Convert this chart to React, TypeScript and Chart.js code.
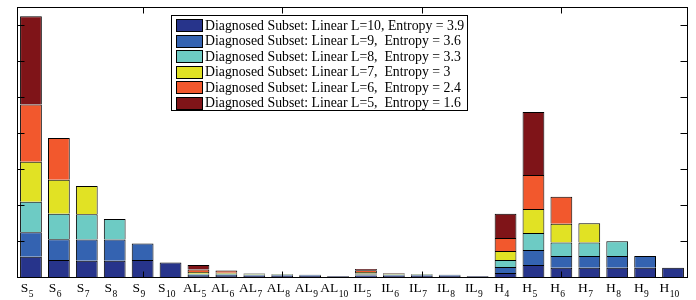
import React, { useEffect, useRef } from "react";
import { Chart, registerables } from "chart.js";

Chart.register(...registerables);

const categories = [
  "S5", "S6", "S7", "S8", "S9", "S10",
  "AL5", "AL6", "AL7", "AL8", "AL9", "AL10",
  "IL5", "IL6", "IL7", "IL8", "IL9",
  "H4", "H5", "H6", "H7", "H8", "H9", "H10",
];

const seriesLabels = [
  "Diagnosed Subset: Linear L=10, Entropy = 3.9",
  "Diagnosed Subset: Linear L=9,  Entropy = 3.6",
  "Diagnosed Subset: Linear L=8,  Entropy = 3.3",
  "Diagnosed Subset: Linear L=7,  Entropy = 3",
  "Diagnosed Subset: Linear L=6,  Entropy = 2.4",
  "Diagnosed Subset: Linear L=5,  Entropy = 1.6",
];

const seriesColors = ["#27348b", "#3463b1", "#6dcbc4", "#e1e224", "#f2582d", "#7f1418"];

// values per category (S5..S10, AL5..AL10, IL5..IL9, H4..H10)
const linearL10 = [0.56, 0.47, 0.45, 0.45, 0.47, 0.4, 0.03, 0.03, 0.03, 0.03, 0.03, 0.02, 0.04, 0.03, 0.03, 0.03, 0.02, 0.11, 0.33, 0.26, 0.26, 0.26, 0.26, 0.26];
const linearL9 = [0.68, 0.58, 0.59, 0.59, 0.46, 0, 0.03, 0.03, 0.02, 0.02, 0.02, 0.01, 0.03, 0.02, 0.02, 0.02, 0.01, 0.17, 0.42, 0.32, 0.32, 0.32, 0.32, 0];
const linearL8 = [0.85, 0.71, 0.7, 0.57, 0, 0, 0.03, 0.03, 0.02, 0.02, 0.01, 0, 0.03, 0.02, 0.02, 0.01, 0, 0.19, 0.47, 0.38, 0.38, 0.41, 0, 0];
const linearL7 = [1.11, 0.94, 0.79, 0, 0, 0, 0.05, 0.03, 0.03, 0.01, 0, 0, 0.04, 0.03, 0.01, 0, 0, 0.25, 0.67, 0.52, 0.53, 0, 0, 0];
const linearL6 = [1.59, 1.16, 0, 0, 0, 0, 0.07, 0.06, 0, 0, 0, 0, 0.05, 0.01, 0, 0, 0, 0.36, 0.94, 0.75, 0, 0, 0, 0];
const linearL5 = [2.45, 0, 0, 0, 0, 0, 0.12, 0, 0, 0, 0, 0, 0.03, 0, 0, 0, 0, 0.68, 1.75, 0, 0, 0, 0, 0];

const seriesValues = [linearL10, linearL9, linearL8, linearL7, linearL6, linearL5];

const yMax = 7.5;
const yTickStep = 1;
const xTickPositions = [5, 10, 15, 20]; // 1-based category positions

const FONT = '"Liberation Serif", "Times New Roman", serif';

const matlabPlugin = {
  id: "matlabAxes",
  afterDatasetsDraw(chart: any) {
    const { ctx, chartArea: a, scales } = chart;
    const x = scales.x;
    const y = scales.y;
    ctx.save();
    ctx.strokeStyle = "#000";
    ctx.lineWidth = 1;
    const line = (x1: number, y1: number, x2: number, y2: number) => {
      ctx.beginPath();
      ctx.moveTo(x1, y1);
      ctx.lineTo(x2, y2);
      ctx.stroke();
    };
    const L = Math.round(a.left) + 0.5;
    const R = Math.round(a.right) + 0.5;
    const T = Math.round(a.top) + 0.5;
    const B = Math.round(a.bottom) + 0.5;
    ctx.strokeRect(L, T, R - L, B - T);
    for (let v = yTickStep; v < yMax; v += yTickStep) {
      const py = Math.round(y.getPixelForValue(v)) + 0.5;
      line(L, py, L + 7, py);
      line(R - 7, py, R, py);
    }
    xTickPositions.forEach((p) => {
      const px = Math.round(x.getPixelForValue(p - 1)) + 0.5;
      line(px, T, px, T + 6);
      line(px, B - 6, px, B);
    });

    // category labels with subscripts
    ctx.fillStyle = "#000";
    ctx.textBaseline = "alphabetic";
    ctx.textAlign = "left";
    categories.forEach((lab, i) => {
      const m = lab.match(/^([A-Za-z]+)(\d+)$/);
      const main = m ? m[1] : lab;
      const sub = m ? m[2] : "";
      const cx = x.getPixelForValue(i);
      ctx.font = `13.5px ${FONT}`;
      const w1 = ctx.measureText(main).width;
      ctx.font = `9.5px ${FONT}`;
      const w2 = ctx.measureText(sub).width;
      const left = cx - (w1 + w2) / 2 - 4;
      ctx.font = `13.5px ${FONT}`;
      ctx.fillText(main, left, 292);
      ctx.font = `9.5px ${FONT}`;
      ctx.fillText(sub, left + w1 + 0.5, 296.5);
    });

    // legend box
    const bx = 171.5, by = 15.5, bw = 296, bh = 95;
    ctx.fillStyle = "#fff";
    ctx.fillRect(bx, by, bw, bh);
    ctx.strokeStyle = "#000";
    ctx.strokeRect(bx, by, bw, bh);
    chart.data.datasets.forEach((ds: any, i: number) => {
      const cy = 25 + i * 15.5;
      ctx.fillStyle = ds.backgroundColor;
      ctx.fillRect(176.5, Math.round(cy - 6) + 0.5, 26, 12);
      ctx.strokeStyle = "#000";
      ctx.strokeRect(176.5, Math.round(cy - 6) + 0.5, 26, 12);
      ctx.fillStyle = "#000";
      ctx.font = `13.8px ${FONT}`;
      ctx.textBaseline = "middle";
      ctx.fillText(ds.label, 205, cy + 1);
    });
    ctx.restore();
  },
};

export default function App() {
  const ref = useRef<HTMLCanvasElement | null>(null);
  useEffect(() => {
    if (!ref.current) return;
    const chart = new Chart(ref.current, {
      type: "bar",
      data: {
        labels: categories,
        datasets: seriesValues.map((vals, i) => ({
          label: seriesLabels[i],
          data: vals.map((v) => (v > 0 ? v : null)),
          backgroundColor: seriesColors[i],
          borderColor: "#000",
          borderWidth: { top: 1, left: 1, right: 1, bottom: 0 },
          borderSkipped: false,
          barPercentage: 0.78,
          categoryPercentage: 1,
        })),
      },
      options: {
        responsive: false,
        animation: false,
        layout: { padding: { left: 17, right: 9, top: 7, bottom: 23 } },
        plugins: { legend: { display: false }, tooltip: { enabled: false } },
        scales: {
          x: {
            display: false,
            stacked: true,
            offset: true,
            grid: { display: false },
          },
          y: {
            display: false,
            stacked: true,
            min: 0,
            max: yMax,
            grid: { display: false },
          },
        },
      },
      plugins: [matlabPlugin],
    });
    return () => chart.destroy();
  }, []);
  return (
    <div style={{ position: "fixed", left: 0, top: 0, width: 696, height: 300, background: "#fff" }}>
      <canvas ref={ref} width={696} height={300} style={{ width: 696, height: 300 }} />
    </div>
  );
}
